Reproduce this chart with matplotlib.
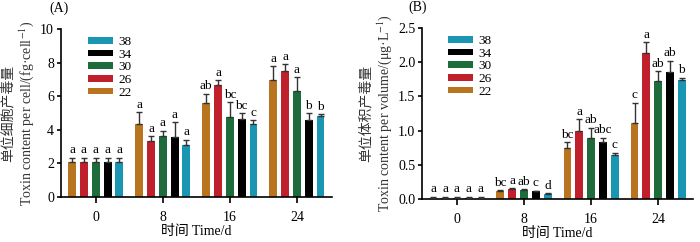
import matplotlib
matplotlib.use('Agg')
import matplotlib.pyplot as plt
import numpy as np

plt.rcParams['font.family'] = ['Liberation Serif', 'Noto Sans CJK SC', 'DejaVu Serif']
plt.rcParams['mathtext.fontset'] = 'stix'

days = ['0', '8', '16', '24']
temps = ['22', '26', '30', '34', '38']
colors = ['#B8741F', '#C0202B', '#1E6B3B', '#000000', '#1A95B2']

# panel A: toxin per cell, rows = temperature, columns = day
cell_mean = [[2.10, 4.35, 5.58, 6.94],
             [2.10, 3.35, 6.69, 7.52],
             [2.10, 3.65, 4.74, 6.33],
             [2.10, 3.57, 4.64, 4.56],
             [2.10, 3.10, 4.35, 4.84]]
cell_err = [[0.25, 0.70, 0.57, 0.84],
            [0.25, 0.26, 0.27, 0.40],
            [0.25, 0.30, 0.89, 0.81],
            [0.25, 0.88, 0.34, 0.44],
            [0.25, 0.31, 0.21, 0.10]]
cell_sig = [['a', 'a', 'ab', 'a'],
            ['a', 'a', 'a', 'a'],
            ['a', 'a', 'bc', 'a'],
            ['a', 'a', 'bc', 'b'],
            ['a', 'a', 'c', 'b']]

# panel B: toxin per volume
vol_mean = [[0.02, 0.12, 0.74, 1.11],
            [0.02, 0.15, 1.00, 2.135],
            [0.02, 0.13, 0.885, 1.72],
            [0.02, 0.11, 0.84, 1.86],
            [0.02, 0.07, 0.637, 1.74]]
vol_err = [[0.015, 0.01, 0.09, 0.30],
           [0.015, 0.01, 0.17, 0.155],
           [0.015, 0.01, 0.155, 0.15],
           [0.015, 0.01, 0.055, 0.16],
           [0.015, 0.01, 0.04, 0.035]]
vol_sig = [['a', 'bc', 'bc', 'c'],
           ['a', 'a', 'a', 'a'],
           ['a', 'ab', 'ab', 'ab'],
           ['a', 'c', 'abc', 'ab'],
           ['a', 'd', 'c', 'b']]

fig = plt.figure(figsize=(7, 2.42), dpi=100)
axA = fig.add_axes([0.087, 0.186, 0.387, 0.694])
axB = fig.add_axes([0.603, 0.178, 0.387, 0.706])

x = np.arange(len(days))
step = 0.176
width = 0.118


def draw(ax, means, errs, sigs, ylim, yticks, yfmt, ylab, legx):
    for i, t in enumerate(temps):
        xi = x + (i - 2) * step
        m = np.array(means[i])
        e = np.array(errs[i])
        ax.bar(xi, m, width, color=colors[i], label=t, zorder=2)
        ax.errorbar(xi, m, yerr=[np.zeros_like(e), e], fmt='none',
                    ecolor='#333333', elinewidth=1, capsize=2, capthick=1, zorder=3)
        for xx, top, s in zip(xi, m + e, sigs[i]):
            ax.annotate(s, (xx, top), xytext=(0, 1), textcoords='offset points',
                        ha='center', va='bottom', fontsize=9.5)
    ax.set_xlim(-0.52, 3.52)
    ax.set_ylim(*ylim)
    ax.set_yticks(yticks)
    ax.set_yticklabels([yfmt % v for v in yticks])
    ax.set_xticks(x)
    ax.set_xticklabels(days)
    ax.tick_params(labelsize=10, direction='out', length=3, width=1.2, pad=2)
    ax.tick_params(axis='x', length=4, pad=6)
    for s in ['top', 'right']:
        ax.spines[s].set_visible(False)
    for s in ['left', 'bottom']:
        ax.spines[s].set_linewidth(1.2)
    ax.set_xlabel('时间 Time/d', fontsize=10, labelpad=1)
    ax.set_ylabel(ylab, fontsize=10, color='#333333', labelpad=3, linespacing=1.2)
    h, l = ax.get_legend_handles_labels()
    ax.legend(h[::-1], l[::-1], loc='upper left', bbox_to_anchor=(legx, 1.005),
              frameon=False, fontsize=9.5, handlelength=1.9, handleheight=0.4,
              labelspacing=0.05, handletextpad=0.45, borderaxespad=0.2)


draw(axA, cell_mean, cell_err, cell_sig, (0, 10), [0, 2, 4, 6, 8, 10], '%d',
     '单位细胞产毒量\nToxin content per cell/(fg·cell$^{-1}$)', 0.07)
draw(axB, vol_mean, vol_err, vol_sig, (0, 2.5), [0, 0.5, 1.0, 1.5, 2.0, 2.5], '%.1f',
     '单位体积产毒量\nToxin content per volume/(μg·L$^{-1}$)', 0.065)

fig.text(0.071, 0.965, '(A)', fontsize=10, va='center')
fig.text(0.583, 0.972, '(B)', fontsize=10, va='center')

fig.savefig('out.png', dpi=100)
